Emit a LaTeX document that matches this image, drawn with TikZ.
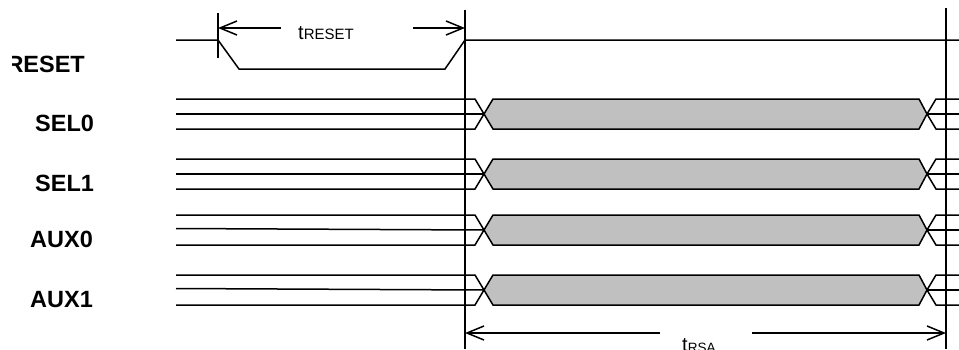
\documentclass[tikz,border=0pt]{standalone}
\usepackage{fontspec}
\setmainfont{Liberation Sans}
\usetikzlibrary{arrows.meta}
\definecolor{busgray}{HTML}{C0C0C0}
\tikzset{
  sig/.style={line width=1.5pt, line join=miter},
  vline/.style={line width=2pt},
  dimarrow/.style={line width=1.5pt, -{Straight Barb[length=17pt,width=14pt,line width=1.5pt]}},
  lbl/.style={anchor=base west, inner sep=0pt, font=\fontsize{23.5}{28}\selectfont\bfseries},
  tlbl/.style={anchor=base, inner sep=0pt},
}
\newcommand{\tsub}[4]{{\fontsize{20}{24}\selectfont #1}{\fontsize{#3}{18}\selectfont\raisebox{-#4pt}{#2}}}
\begin{document}
\begin{tikzpicture}[x=1pt,y=-1pt]
\useasboundingbox (0,0) rectangle (959,349);
% vertical reference lines
\coordinate (tickTop) at (218,13);
\coordinate (tickBot) at (218,58);
\coordinate (vaTop) at (465,10);
\coordinate (vaBot) at (465,349);
\coordinate (vbTop) at (946,8);
\coordinate (vbBot) at (946,349);
\draw[vline] (tickTop) -- (tickBot);
\draw[vline] (vaTop) -- (vaBot);
\draw[vline] (vbTop) -- (vbBot);
% RESET waveform
\draw[sig] (176,40) -- (218,40) -- (239,69) -- (445,69) -- (465,40) -- (959,40);
% RESET label (left edge cut)
\begin{scope}
\clip (12,40) rectangle (120,80);
\node[lbl] (lreset) at (6.3,72) {RESET};
\end{scope}
% t_RESET dimension
\node[tlbl, anchor=base west] (treset) at (298,39) {\tsub{t}{RESET}{15}{0}};
\coordinate (trA) at (281,28);
\coordinate (trAt) at (218,28);
\coordinate (trB) at (413,28);
\coordinate (trBt) at (465,28);
\draw[dimarrow] (trA) -- (trAt);
\draw[dimarrow] (trB) -- (trBt);
% t_RSA dimension
\node[tlbl, anchor=base west] (trsa) at (682,351) {\tsub{t}{RSA}{13.5}{1.5}};
\coordinate (tsA) at (660,333);
\coordinate (tsAt) at (465,333);
\coordinate (tsB) at (752,333);
\coordinate (tsBt) at (946,333);
\draw[dimarrow] (tsA) -- (tsAt);
\draw[dimarrow] (tsB) -- (tsBt);
% bus groups
\foreach \name/\tp/\md/\bt/\lx/\sl in {SEL0/99/114/129/35/0, SEL1/159/174/189/35/0, AUX0/215/230/245/30/1.5, AUX1/275/290/305/30/1.5}{
  \filldraw[sig, fill=busgray] (484,\md) -- (493,\tp) -- (919,\tp) -- (927,\md) -- (919,\bt) -- (493,\bt) -- cycle;
  \draw[sig] (176,\tp) -- (475,\tp) -- (484,\md);
  \draw[sig] (176,\bt) -- (475,\bt) -- (484,\md);
  \draw[sig] (176,\md-\sl) -- (484,\md);
  \draw[sig] (959,\tp) -- (936,\tp) -- (927,\md);
  \draw[sig] (959,\bt) -- (936,\bt) -- (927,\md);
  \draw[sig] (927,\md) -- (959,\md);
  \node[lbl] (l\name) at (\lx,\bt+2) {\name};
}
\end{tikzpicture}
\end{document}
